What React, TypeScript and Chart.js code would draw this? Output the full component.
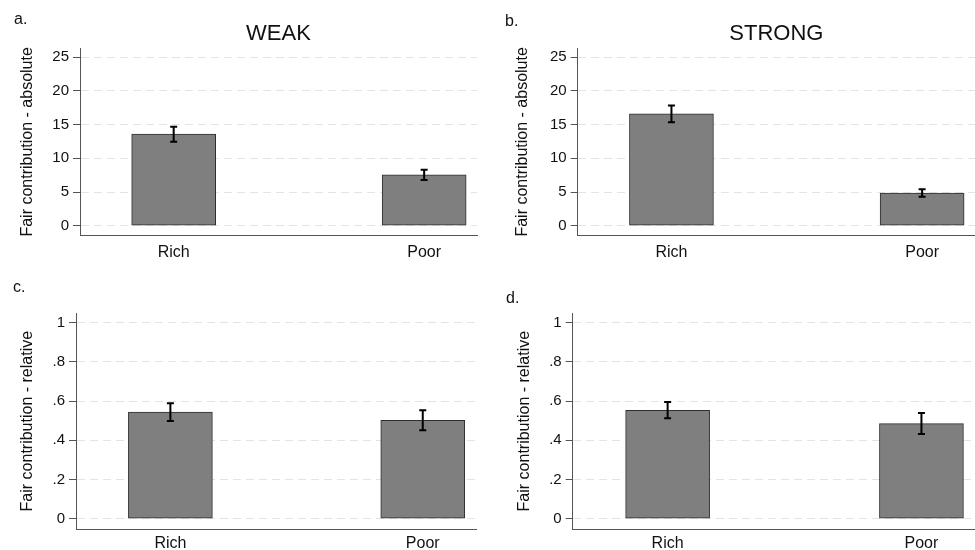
import React, { useEffect, useRef } from "react";
import { Chart, registerables } from "chart.js";

Chart.register(...registerables);

const FONT = "'Liberation Sans', Arial, Helvetica, sans-serif";

const categories = ["Rich", "Poor"];

const absTicks = [0, 5, 10, 15, 20, 25];
const absTickLabels = ["0", "5", "10", "15", "20", "25"];
const relTicks = [0, 0.2, 0.4, 0.6, 0.8, 1];
const relTickLabels = ["0", ".2", ".4", ".6", ".8", "1"];

const weakAbsMean = [13.6, 7.55];
const weakAbsLow = [12.45, 6.8];
const weakAbsHigh = [14.7, 8.3];

const strongAbsMean = [16.6, 4.85];
const strongAbsLow = [15.35, 4.3];
const strongAbsHigh = [17.85, 5.4];

const weakRelMean = [0.544, 0.502];
const weakRelLow = [0.498, 0.451];
const weakRelHigh = [0.589, 0.553];

const strongRelMean = [0.553, 0.485];
const strongRelLow = [0.512, 0.432];
const strongRelHigh = [0.595, 0.539];

type Box = {
  cl: number; ct: number; cw: number; ch: number; // canvas
  left: number; right: number; top: number; bottom: number; // chart area (page coords)
  yTitleX: number;
  labelPad: number;
};

type PanelProps = {
  box: Box;
  mean: number[];
  low: number[];
  high: number[];
  ticks: number[];
  tickLabels: string[];
  yMin: number;
  yMax: number;
  yTitle: string;
};

function Panel({ box, mean, low, high, ticks, tickLabels, yMin, yMax, yTitle }: PanelProps) {
  const ref = useRef<HTMLCanvasElement>(null);
  useEffect(() => {
    if (!ref.current) return;
    const errorBars = {
      id: "errorBars",
      afterDatasetsDraw(chart: any) {
        const { ctx } = chart;
        const xs = chart.scales.x;
        const ys = chart.scales.y;
        ctx.save();
        ctx.strokeStyle = "#000";
        ctx.lineWidth = 2;
        for (let i = 0; i < mean.length; i++) {
          const x = xs.getPixelForValue(i);
          const y1 = ys.getPixelForValue(low[i]);
          const y2 = ys.getPixelForValue(high[i]);
          ctx.beginPath();
          ctx.moveTo(x, y1);
          ctx.lineTo(x, y2);
          ctx.moveTo(x - 3.5, y1);
          ctx.lineTo(x + 3.5, y1);
          ctx.moveTo(x - 3.5, y2);
          ctx.lineTo(x + 3.5, y2);
          ctx.stroke();
        }
        ctx.restore();
      },
    };
    const chart = new Chart(ref.current, {
      type: "bar",
      data: {
        datasets: [
          {
            data: mean.map((v, i) => ({ x: i, y: v })),
            backgroundColor: "#7f7f7f",
            borderColor: "#2e2e2e",
            borderWidth: 1,
            borderSkipped: false,
            barThickness: 84,
          } as any,
        ],
      },
      options: {
        responsive: false,
        maintainAspectRatio: false,
        animation: false,
        events: [],
        layout: {
          padding: {
            top: box.top - box.ct,
            right: box.cl + box.cw - box.right,
            left: 0,
            bottom: 0,
          },
        },
        plugins: {
          legend: { display: false },
          tooltip: { enabled: false },
          title: { display: false },
        },
        scales: {
          x: {
            type: "linear",
            offset: false,
            min: -0.374,
            max: 1.211,
            afterBuildTicks: (s: any) => {
              s.ticks = categories.map((_, i) => ({ value: i }));
            },
            afterFit: (s: any) => {
              s.height = box.ct + box.ch - box.bottom;
            },
            ticks: {
              callback: (v: any) => categories[Math.round(Number(v))],
              font: { family: FONT, size: 16 },
              color: "#111",
              padding: box.labelPad,
              autoSkip: false,
              maxRotation: 0,
            },
            grid: { display: false, drawTicks: false, offset: false },
            border: { display: true, color: "#555", width: 1 },
          },
          y: {
            type: "linear",
            min: yMin,
            max: yMax,
            afterBuildTicks: (s: any) => {
              s.ticks = ticks.map((v) => ({ value: v }));
            },
            afterFit: (s: any) => {
              s.width = box.left - box.cl;
            },
            ticks: {
              callback: (_v: any, i: number) => tickLabels[i],
              font: { family: FONT, size: 15 },
              color: "#111",
              padding: 4,
            },
            grid: {
              color: "#e4e4e4",
              lineWidth: 1,
              drawTicks: true,
              tickLength: 7,
              tickColor: "#555",
              tickWidth: 1,
              tickBorderDash: [],
            },
            border: { display: true, color: "#555", width: 1, dash: [8, 5] },
            title: {
              display: true,
              text: yTitle,
              font: { family: FONT, size: 16 },
              color: "#111",
              padding: { top: box.yTitleX - box.cl - 9.6, bottom: 0 },
            },
          },
        },
      } as any,
      plugins: [errorBars],
    });
    return () => chart.destroy();
  }, []);
  return (
    <canvas
      ref={ref}
      width={box.cw}
      height={box.ch}
      style={{ position: "absolute", left: box.cl, top: box.ct, width: box.cw, height: box.ch }}
    />
  );
}

const boxA: Box = { cl: 0, ct: 0, cw: 487, ch: 272, left: 80, right: 477, top: 48, bottom: 235.7, yTitleX: 28, labelPad: 7 };
const boxB: Box = { cl: 487, ct: 0, cw: 488, ch: 272, left: 577.7, right: 975, top: 48, bottom: 235.7, yTitleX: 523, labelPad: 7 };
const boxC: Box = { cl: 0, ct: 272, cw: 487, ch: 278, left: 76, right: 476, top: 313.3, bottom: 529, yTitleX: 28, labelPad: 5 };
const boxD: Box = { cl: 487, ct: 272, cw: 488, ch: 278, left: 572.7, right: 975, top: 313.3, bottom: 529, yTitleX: 525, labelPad: 5 };

const absMin = -1.485;
const absMax = 26.38;
const relMin = -0.0526;
const relMax = 1.048;

const letterStyle = (left: number, top: number): React.CSSProperties => ({
  position: "absolute",
  left,
  top,
  fontFamily: FONT,
  fontSize: 16,
  lineHeight: "16px",
  color: "#111",
});

const titleStyle = (b: Box, top: number): React.CSSProperties => ({
  position: "absolute",
  left: b.left,
  width: b.right - b.left,
  top,
  textAlign: "center",
  fontFamily: FONT,
  fontSize: 22,
  lineHeight: "22px",
  color: "#111",
});

export default function App() {
  return (
    <div style={{ position: "absolute", left: 0, top: 0, width: 975, height: 550, background: "#fff", overflow: "hidden" }}>
      <Panel box={boxA} mean={weakAbsMean} low={weakAbsLow} high={weakAbsHigh} ticks={absTicks} tickLabels={absTickLabels} yMin={absMin} yMax={absMax} yTitle="Fair contribution - absolute" />
      <Panel box={boxB} mean={strongAbsMean} low={strongAbsLow} high={strongAbsHigh} ticks={absTicks} tickLabels={absTickLabels} yMin={absMin} yMax={absMax} yTitle="Fair contribution - absolute" />
      <Panel box={boxC} mean={weakRelMean} low={weakRelLow} high={weakRelHigh} ticks={relTicks} tickLabels={relTickLabels} yMin={relMin} yMax={relMax} yTitle="Fair contribution - relative" />
      <Panel box={boxD} mean={strongRelMean} low={strongRelLow} high={strongRelHigh} ticks={relTicks} tickLabels={relTickLabels} yMin={relMin} yMax={relMax} yTitle="Fair contribution - relative" />
      <div style={titleStyle(boxA, 22.4)}>WEAK</div>
      <div style={titleStyle(boxB, 22.4)}>STRONG</div>
      <div style={letterStyle(14, 10.5)}>a.</div>
      <div style={letterStyle(505, 13)}>b.</div>
      <div style={letterStyle(13, 278.5)}>c.</div>
      <div style={letterStyle(506, 290)}>d.</div>
    </div>
  );
}
